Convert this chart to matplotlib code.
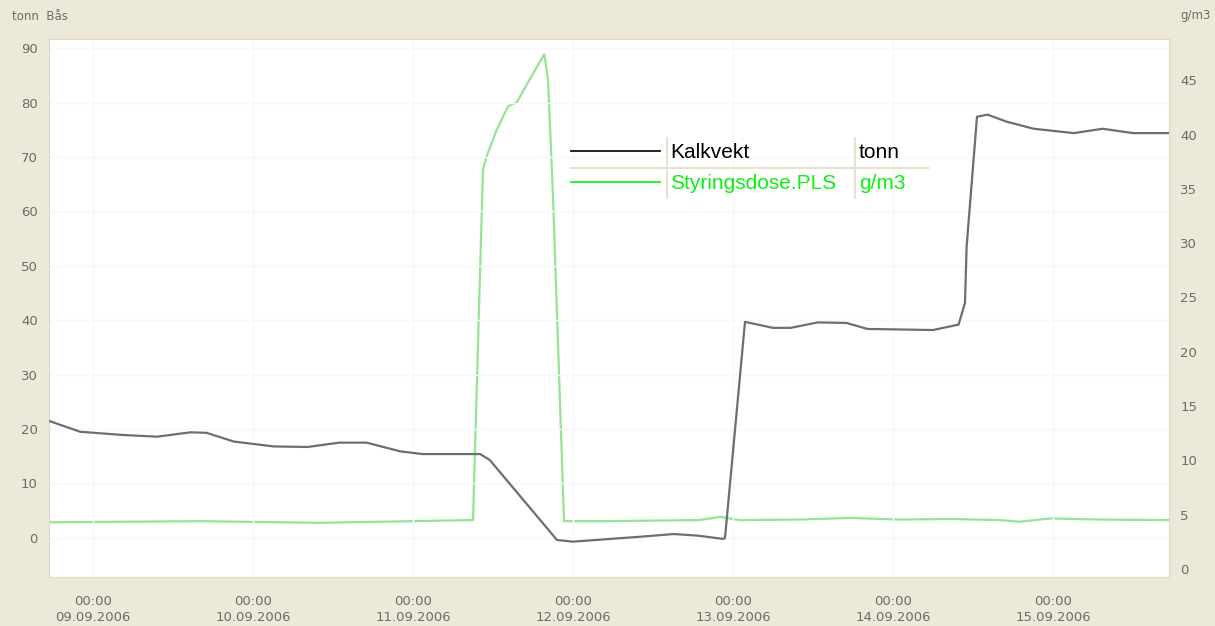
import pandas as pd
import numpy as np
import matplotlib
matplotlib.use('Agg')
import matplotlib.pyplot as plt
import matplotlib.dates as mdates

## data (days after 09.09.2006 00:00)
kalk_days = [-0.275, -0.08, 0.19, 0.40, 0.61, 0.71, 0.88, 1.13, 1.34, 1.54, 1.71, 1.92, 2.06,
             2.42, 2.48, 2.90, 3.00, 3.42, 3.63, 3.78, 3.94, 3.95, 4.075, 4.25, 4.36, 4.53,
             4.71, 4.84, 5.25, 5.41, 5.45, 5.46, 5.525, 5.59, 5.71, 5.88, 6.13, 6.31, 6.50, 6.725]
kalk_tonn = [21.5, 19.5, 18.9, 18.6, 19.4, 19.3, 17.7, 16.8, 16.7, 17.5, 17.5, 15.9, 15.4,
             15.4, 14.3, -0.4, -0.7, 0.2, 0.7, 0.4, -0.2, 0.0, 39.7, 38.6, 38.6, 39.6,
             39.5, 38.4, 38.2, 39.2, 43.2, 53.5, 77.4, 77.8, 76.5, 75.2, 74.4, 75.2, 74.4, 74.4]

dose_days = [-0.275, 0.67, 1.42, 2.36, 2.375, 2.4375, 2.46, 2.525, 2.594, 2.65, 2.73, 2.82,
             2.844, 2.875, 2.944, 3.17, 3.79, 3.92, 4.04, 4.42, 4.73, 5.04, 5.36, 5.67, 5.79,
             5.98, 6.29, 6.725]
dose_gm3 = [4.3, 4.4, 4.25, 4.5, 4.5, 36.8, 38.0, 40.5, 42.6, 43.0, 45.1, 47.4,
            45.1, 34.3, 4.4, 4.4, 4.5, 4.8, 4.5, 4.55, 4.7, 4.55, 4.6, 4.5, 4.35,
            4.65, 4.55, 4.5]

left_ticks = list(range(0, 91, 10))
right_ticks = list(range(0, 46, 5))
day_ticks = pd.date_range('2006-09-09', '2006-09-15', freq='D')

t0 = pd.Timestamp('2006-09-09')
kalk_t = t0 + pd.to_timedelta(kalk_days, unit='D')
dose_t = t0 + pd.to_timedelta(dose_days, unit='D')

## plot
W, H = 1215, 626
bg = '#ece9d8'
fig = plt.figure(figsize=(W / 100, H / 100), dpi=100, facecolor=bg)
ax = fig.add_axes([49 / W, 1 - 577 / H, 1120 / W, 538 / H])
ax2 = ax.twinx()

ax.plot(kalk_t, kalk_tonn, color='#6e6e6e', linewidth=1.6, zorder=3)
ax2.plot(dose_t, dose_gm3, color='#95e395', linewidth=1.6)
ax.set_zorder(ax2.get_zorder() + 1)
ax.patch.set_visible(False)
ax2.patch.set_visible(True)
ax2.set_facecolor('white')

ax.set_xlim(t0 + pd.Timedelta(days=-0.275), t0 + pd.Timedelta(days=6.725))
ax.set_ylim(-7.2, 91.7)
ax2.set_ylim(-0.74, 48.8)

ax.set_xticks(day_ticks)
ax.xaxis.set_major_formatter(mdates.DateFormatter('%H:%M\n%d.%m.%Y'))
ax.set_yticks(left_ticks)
ax2.set_yticks(right_ticks)
ax.grid(True, color='#f8f8f8', linewidth=1)

tick_kw = dict(length=0, labelsize=9.5, labelcolor='#6b6b6b', pad=8)
ax.tick_params(axis='y', **tick_kw)
ax2.tick_params(axis='y', **tick_kw)
ax.tick_params(axis='x', length=0, labelsize=9.5, labelcolor='#6b6b6b', pad=13)
for lab in ax.get_xticklabels():
    lab.set_linespacing(1.3)

for a in (ax, ax2):
    for s in a.spines.values():
        s.set_color('#dedbce')

# unit labels in top strip
fig.text(12 / W, 1 - 16 / H, 'tonn  Bås', fontsize=8.5, color='#6b6b6b', va='center')
fig.text(1180 / W, 1 - 16 / H, 'g/m3', fontsize=8.5, color='#6b6b6b', va='center')

# legend table
def fx(x): return x / W
def fy(y): return 1 - y / H

sep = '#e6e2d0'
fig.add_artist(plt.Line2D([fx(571), fx(928)], [fy(168), fy(168)], color=sep, lw=1.5))
for xs in (667, 855):
    fig.add_artist(plt.Line2D([fx(xs), fx(xs)], [fy(138), fy(198)], color=sep, lw=1.5))
fig.add_artist(plt.Line2D([fx(571), fx(660)], [fy(151), fy(151)], color='#111111', lw=1.3))
fig.add_artist(plt.Line2D([fx(571), fx(660)], [fy(182), fy(182)], color='#22ee22', lw=1.3))
leg_font = dict(fontsize=15, family=['Liberation Sans', 'DejaVu Sans'], va='center')
fig.text(fx(670), fy(152), 'Kalkvekt', color='black', **leg_font)
fig.text(fx(859), fy(152), 'tonn', color='black', **leg_font)
fig.text(fx(670), fy(183), 'Styringsdose.PLS', color='#11ee11', **leg_font)
fig.text(fx(859), fy(183), 'g/m3', color='#11ee11', **leg_font)

fig.savefig('out.png', dpi=100, facecolor=bg)
plt.close()
